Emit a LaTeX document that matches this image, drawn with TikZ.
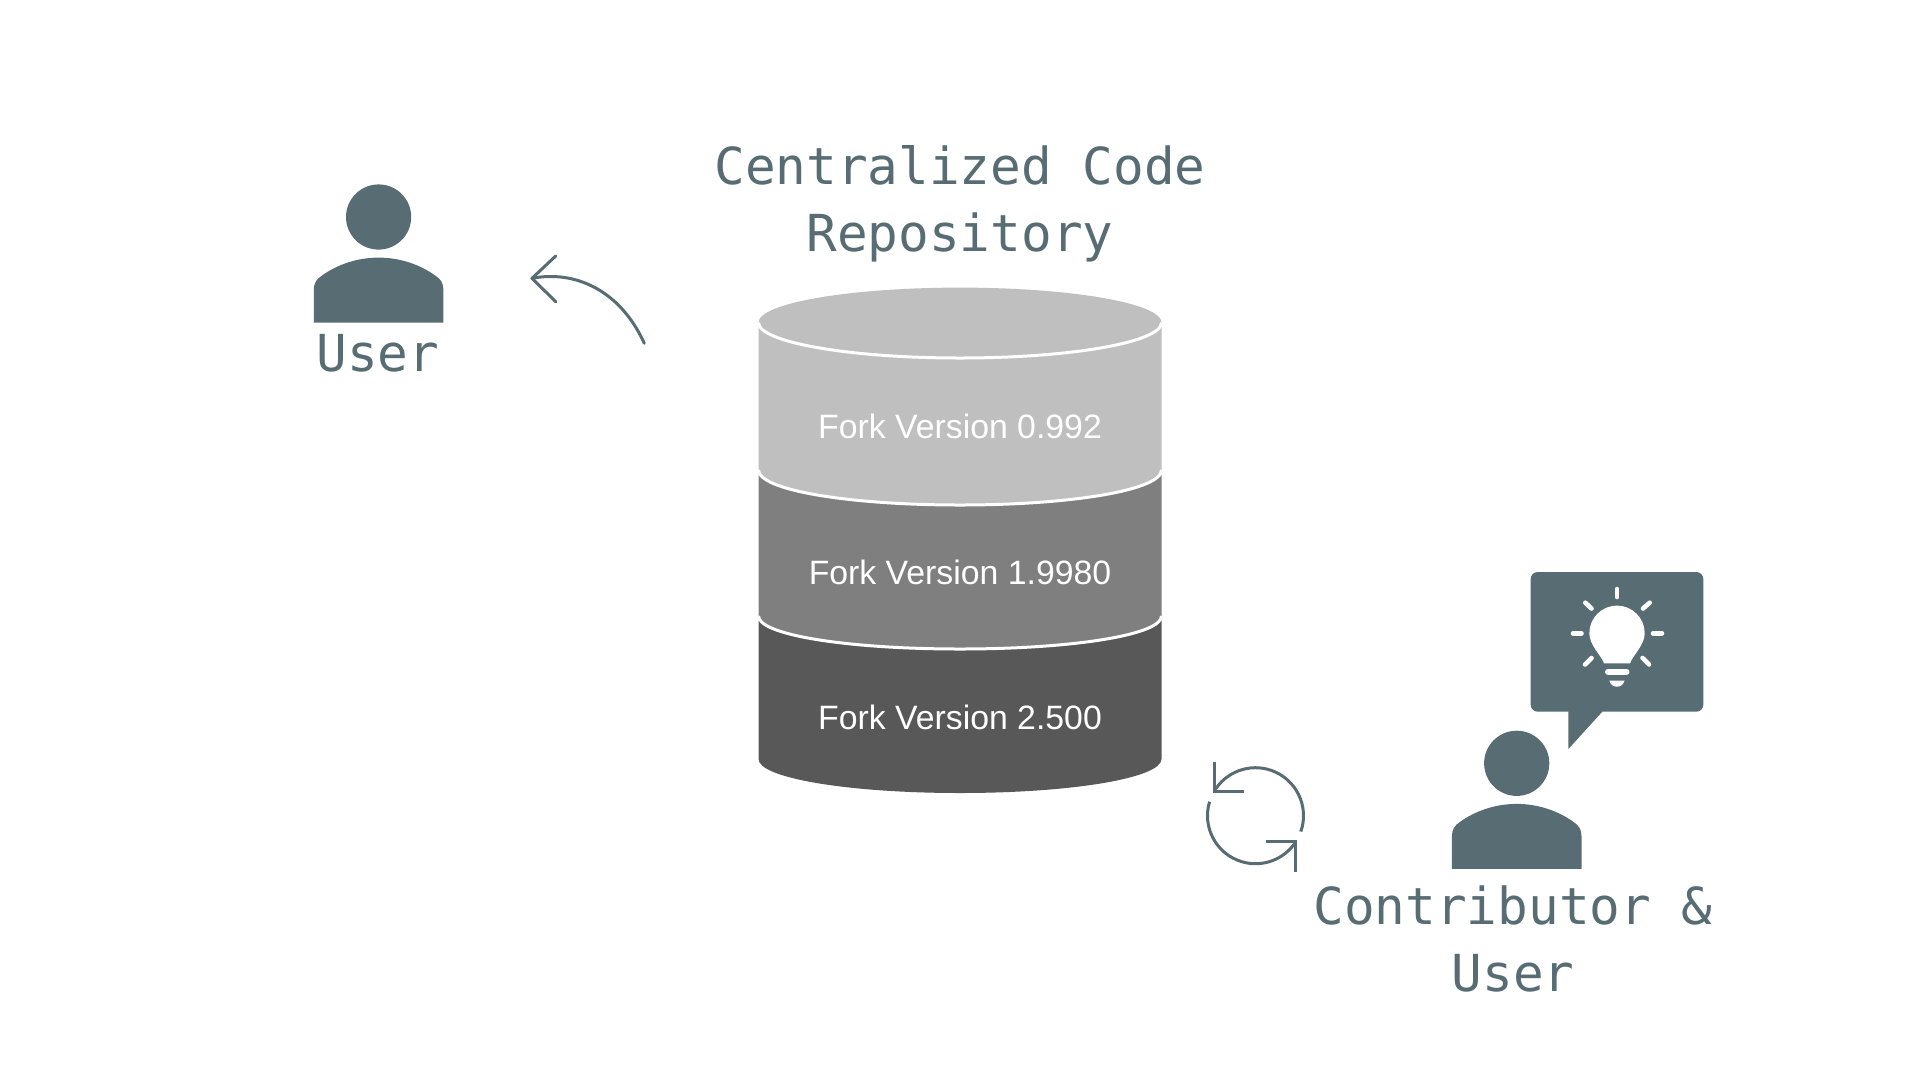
\documentclass[tikz,border=0pt]{standalone}
\usepackage{fontspec}
\setmainfont{Liberation Sans}
\newfontfamily\monof{DejaVu Sans Mono}
\definecolor{slate}{HTML}{576C73}
\definecolor{lightg}{HTML}{BFBFBF}
\definecolor{midg}{HTML}{7F7F7F}
\definecolor{darkg}{HTML}{585858}
\tikzset{
  monolabel/.style={font=\monof\fontsize{51}{60}\selectfont,text=slate,anchor=base,inner sep=0pt},
  forklabel/.style={font=\fontsize{33.8}{40}\selectfont,text=white,anchor=base,inner sep=0pt},
  slateline/.style={draw=slate,line width=3pt,line cap=round,line join=round},
  ray/.style={draw=white,line width=4.6pt,line cap=round},
  seam/.style={draw=white,line width=3pt},
  person/.pic={
    \fill[slate] (0,0) circle[radius=32.6];
    \fill[slate] (-64.8,105.6) -- (-64.8,73) .. controls (-64.8,66) and (-62,62) .. (-56.6,58.5)
      .. controls (-42,48) and (-22,40.6) .. (0,40.6)
      .. controls (22,40.6) and (42,48) .. (56.6,58.5)
      .. controls (62,62) and (64.8,66) .. (64.8,73) -- (64.8,105.6) -- cycle;
  }
}
\begin{document}
\begin{tikzpicture}[x=1pt,y=-1pt]
\useasboundingbox (0,0) rectangle (1920,1080);
% cylinder
\fill[darkg] (758.5,618) -- (758.5,759) .. controls (758.5,778) and (848,793) .. (960,793)
  .. controls (1072,793) and (1161.5,778) .. (1161.5,759) -- (1161.5,618) -- cycle;
\fill[midg] (758.5,470) -- (758.5,616) .. controls (758.5,635) and (848,649) .. (960,649)
  .. controls (1072,649) and (1161.5,635) .. (1161.5,616) -- (1161.5,470) -- cycle;
\draw[seam] (758.5,616) .. controls (758.5,635) and (848,649) .. (960,649)
  .. controls (1072,649) and (1161.5,635) .. (1161.5,616);
\fill[lightg] (758.5,322.6) -- (758.5,470) .. controls (758.5,490) and (848,505) .. (960,505)
  .. controls (1072,505) and (1161.5,490) .. (1161.5,470) -- (1161.5,322.6) -- cycle;
\draw[seam] (758.5,470) .. controls (758.5,490) and (848,505) .. (960,505)
  .. controls (1072,505) and (1161.5,490) .. (1161.5,470);
\fill[lightg] (960,322.6) ellipse[x radius=201.5,y radius=35];
\draw[seam] (758.5,322.6) .. controls (758.5,342) and (848,358) .. (960,358)
  .. controls (1072,358) and (1161.5,342) .. (1161.5,322.6);
\node[forklabel] (f1) at (960,438.5) {Fork Version 0.992};
\node[forklabel] (f2) at (960,584.5) {Fork Version 1.9980};
\node[forklabel] (f3) at (960,729) {Fork Version 2.500};
% titles
\node[monolabel] (t1) at (960,184.5) {Centralized Code};
\node[monolabel] (t2) at (960,251) {Repository};
\node[monolabel] (u1) at (378,371) {User};
\node[monolabel] (c1) at (1513,924) {Contributor \&};
\node[monolabel] (c2) at (1513,991) {User};
% persons
\pic at (378.6,217) {person};
\pic at (1516.7,763.3) {person};
% arrow to user
\coordinate (atip) at (532,278.3);
\coordinate (aend) at (644.3,343.3);
\coordinate (aw1) at (555.7,256);
\coordinate (aw2) at (555.7,301.7);
\draw[slateline] (aend) .. controls (620,290) and (575,270) .. (atip);
\draw[slateline] (aw1) -- (atip) -- (aw2);
% cycle
\coordinate (cyc) at (1255.5,815.7);
\coordinate (tipa) at (1214.3,791.7);
\coordinate (tipb) at (1295,841);
\coordinate (wa1) at (1214.3,761.7);
\coordinate (wa2) at (1244,791.7);
\coordinate (wb1) at (1265.7,841);
\coordinate (wb2) at (1295,871.7);
\draw[slateline,line cap=butt] ([shift={(19.3:48)}]cyc) arc[start angle=19.3,end angle=-150,radius=48];
\draw[slateline,line cap=butt] ([shift={(197:48)}]cyc) arc[start angle=197,end angle=33,radius=48];
\draw[slateline,line cap=butt,line join=miter] (wa1) -- (tipa) -- (wa2);
\draw[slateline,line cap=butt,line join=miter] (wb1) -- (tipb) -- (wb2);
% bubble
\fill[slate,rounded corners=7pt] (1530.7,572) rectangle (1703.3,711.7);
\fill[slate] (1568.3,705) -- (1568.3,749) -- (1602.3,711.7) -- (1602.3,705) -- cycle;
% bulb
\fill[white] (1604,663.3) .. controls (1601,655) and (1589.3,645) .. (1589.3,633.3)
  arc[start angle=180,end angle=360,radius=27.7]
  .. controls (1644.7,645) and (1633,655) .. (1630,663.3) -- cycle;
\draw[ray,line width=6pt] (1608,671.7) -- (1626.5,671.7);
\fill[white] (1609.3,680.7) -- (1624.5,680.7) .. controls (1623.5,684.5) and (1620.5,686.7) .. (1617,686.7)
  .. controls (1613.5,686.7) and (1610.3,684.5) .. (1609.3,680.7) -- cycle;
\draw[ray] (1617,589) -- (1617,597);
\draw[ray] (1585.3,602.7) -- (1591.5,608.5);
\draw[ray] (1649.7,602.7) -- (1643,608.5);
\draw[ray] (1573,633.3) -- (1581.5,633.3);
\draw[ray] (1653,633.3) -- (1662,633.3);
\draw[ray] (1585,664.5) -- (1591.5,658);
\draw[ray] (1649,664.5) -- (1642.5,658);
\end{tikzpicture}
\end{document}
